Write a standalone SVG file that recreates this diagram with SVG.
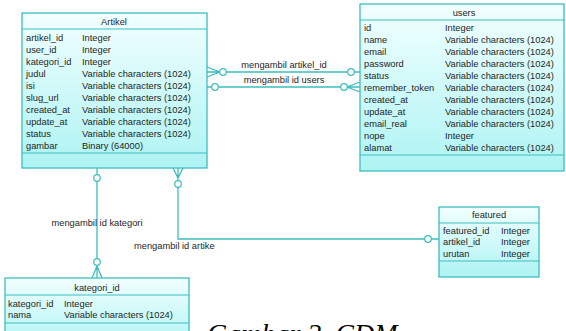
<svg xmlns="http://www.w3.org/2000/svg" width="566" height="331" viewBox="0 0 566 331">
<defs>
<linearGradient id="g" x1="0" y1="0" x2="0" y2="1">
<stop offset="0" stop-color="#f2ffff"/>
<stop offset="1" stop-color="#aef3f3"/>
</linearGradient>
<style>
.box{fill:url(#g);stroke:#3cbdbd;stroke-width:1.3}
.sep{stroke:#3cbdbd;stroke-width:1.2}
.t{font-family:"Liberation Sans",Arial,sans-serif;font-size:9.3px;fill:#1e1e1e}
.h{text-anchor:middle}
.c{fill:none;stroke:#3cbdbd;stroke-width:1.3}
.o{fill:#ffffff;stroke:#3cbdbd;stroke-width:1.2}
.cap{font-family:"Liberation Serif","Times New Roman",serif;font-style:italic;font-size:28px;fill:#000}
</style>
</defs>
<rect width="566" height="331" fill="#ffffff"/>

<g id="connectors">
<!-- Artikel - kategori -->
<path class="c" d="M97 168 V278 M92 278 L97 266 L102 278"/>
<circle class="o" cx="97" cy="178" r="3.3"/>
<circle class="o" cx="97" cy="262" r="3.3"/>
<text class="t h" x="97" y="226">mengambil id kategori</text>
<!-- Artikel - featured -->
<path class="c" d="M178 168 V239 H439 M173 168 L178 178 L183 168"/>
<circle class="o" cx="178" cy="184" r="3.3"/>
<circle class="o" cx="428" cy="239" r="3.3"/>
<text class="t" x="134" y="249">mengambil id artike</text>
<!-- artikel_id -->
<path class="c" d="M207 72 H360 M207 67 L220 72 L207 77"/>
<circle class="o" cx="223" cy="72" r="3.3"/>
<circle class="o" cx="351" cy="72" r="3.3"/>
<text class="t h" x="284" y="68">mengambil artikel_id</text>
<!-- id users -->
<path class="c" d="M207 87 H360 M360 82 L347 87 L360 92"/>
<circle class="o" cx="215" cy="87" r="3.3"/>
<circle class="o" cx="344" cy="87" r="3.3"/>
<text class="t h" x="284" y="83">mengambil id users</text>
</g>

<g id="artikel">
<rect class="box" x="22" y="13" width="185" height="155"/>
<line class="sep" x1="22" y1="29" x2="207" y2="29"/>
<line class="sep" x1="22" y1="153" x2="207" y2="153"/>
<text class="t h" x="114" y="24.5">Artikel</text>
<text class="t" x="26" y="40.5">artikel_id</text><text class="t" x="82" y="40.5">Integer</text>
<text class="t" x="26" y="52.5">user_id</text><text class="t" x="82" y="52.5">Integer</text>
<text class="t" x="26" y="64.5">kategori_id</text><text class="t" x="82" y="64.5">Integer</text>
<text class="t" x="26" y="76.5">judul</text><text class="t" x="82" y="76.5">Variable characters (1024)</text>
<text class="t" x="26" y="88.5">isi</text><text class="t" x="82" y="88.5">Variable characters (1024)</text>
<text class="t" x="26" y="100.5">slug_url</text><text class="t" x="82" y="100.5">Variable characters (1024)</text>
<text class="t" x="26" y="112.5">created_at</text><text class="t" x="82" y="112.5">Variable characters (1024)</text>
<text class="t" x="26" y="124.5">update_at</text><text class="t" x="82" y="124.5">Variable characters (1024)</text>
<text class="t" x="26" y="136.5">status</text><text class="t" x="82" y="136.5">Variable characters (1024)</text>
<text class="t" x="26" y="148.5">gambar</text><text class="t" x="82" y="148.5">Binary (64000)</text>
</g>

<g id="users">
<rect class="box" x="360" y="4" width="204" height="167"/>
<line class="sep" x1="360" y1="20" x2="564" y2="20"/>
<line class="sep" x1="360" y1="155" x2="564" y2="155"/>
<text class="t h" x="464" y="15.5">users</text>
<text class="t" x="364" y="30.5">id</text><text class="t" x="445" y="30.5">Integer</text>
<text class="t" x="364" y="42.5">name</text><text class="t" x="445" y="42.5">Variable characters (1024)</text>
<text class="t" x="364" y="54.5">email</text><text class="t" x="445" y="54.5">Variable characters (1024)</text>
<text class="t" x="364" y="66.5">password</text><text class="t" x="445" y="66.5">Variable characters (1024)</text>
<text class="t" x="364" y="78.5">status</text><text class="t" x="445" y="78.5">Variable characters (1024)</text>
<text class="t" x="364" y="90.5">remember_token</text><text class="t" x="445" y="90.5">Variable characters (1024)</text>
<text class="t" x="364" y="102.5">created_at</text><text class="t" x="445" y="102.5">Variable characters (1024)</text>
<text class="t" x="364" y="114.5">update_at</text><text class="t" x="445" y="114.5">Variable characters (1024)</text>
<text class="t" x="364" y="126.5">email_real</text><text class="t" x="445" y="126.5">Variable characters (1024)</text>
<text class="t" x="364" y="138.5">nope</text><text class="t" x="445" y="138.5">Integer</text>
<text class="t" x="364" y="150.5">alamat</text><text class="t" x="445" y="150.5">Variable characters (1024)</text>
</g>

<g id="featured">
<rect class="box" x="439" y="207" width="100" height="70"/>
<line class="sep" x1="439" y1="223" x2="539" y2="223"/>
<line class="sep" x1="439" y1="261" x2="539" y2="261"/>
<text class="t h" x="489" y="217.5">featured</text>
<text class="t" x="443" y="233.5">featured_id</text><text class="t" x="501" y="233.5">Integer</text>
<text class="t" x="443" y="245">artikel_id</text><text class="t" x="501" y="245">Integer</text>
<text class="t" x="443" y="256.5">urutan</text><text class="t" x="501" y="256.5">Integer</text>
</g>

<g id="kategori">
<rect class="box" x="5" y="278" width="184" height="70"/>
<line class="sep" x1="5" y1="295" x2="189" y2="295"/>
<line class="sep" x1="5" y1="323" x2="189" y2="323"/>
<text class="t h" x="97" y="290.5">kategori_id</text>
<text class="t" x="8" y="306.5">kategori_id</text><text class="t" x="64" y="306.5">Integer</text>
<text class="t" x="8" y="317.5">nama</text><text class="t" x="64" y="317.5">Variable characters (1024)</text>
</g>

<text class="cap" x="207" y="343">Gambar 2. CDM</text>
</svg>
